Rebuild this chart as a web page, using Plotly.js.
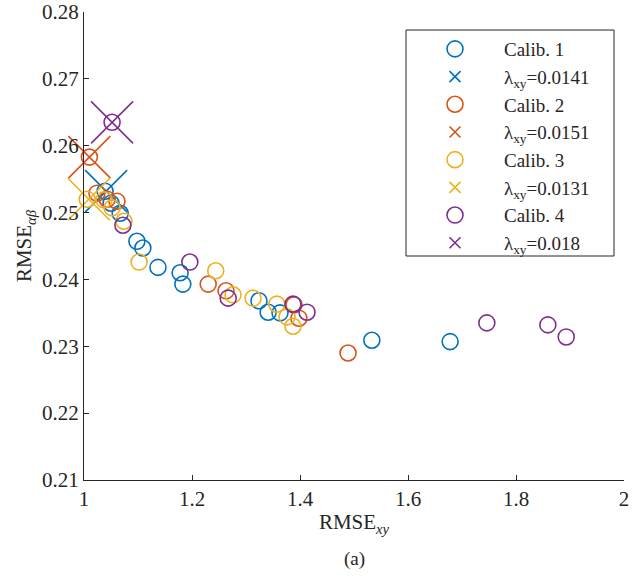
<!DOCTYPE html>
<html>
<head>
<meta charset="utf-8">
<script src="https://cdn.plot.ly/plotly-3.0.1.min.js"></script>
<style>html,body{margin:0;padding:0;background:#fff;}</style>
</head>
<body>
<div id="chart" style="width:642px;height:578px;"></div>
<script>
// Calib. 1 (blue)
const calib1X = [1.039, 1.050, 1.067, 1.098, 1.109, 1.137, 1.178, 1.183, 1.324, 1.341, 1.363, 1.533, 1.678];
const calib1Y = [0.2532, 0.2514, 0.2499, 0.2457, 0.2447, 0.2418, 0.2410, 0.2393, 0.2368, 0.2351, 0.2350, 0.2309, 0.2307];
// Calib. 2 (orange)
const calib2X = [1.010, 1.024, 1.043, 1.061, 1.230, 1.263, 1.389, 1.398, 1.489];
const calib2Y = [0.2583, 0.2529, 0.2520, 0.2517, 0.2393, 0.2383, 0.2362, 0.2342, 0.2290];
// Calib. 3 (yellow)
const calib3X = [1.006, 1.037, 1.052, 1.074, 1.102, 1.244, 1.276, 1.313, 1.357, 1.376, 1.387];
const calib3Y = [0.2520, 0.2519, 0.2507, 0.2487, 0.2426, 0.2413, 0.2377, 0.2372, 0.2363, 0.2344, 0.2330];
// Calib. 4 (purple)
const calib4X = [1.052, 1.072, 1.196, 1.267, 1.387, 1.413, 1.746, 1.859, 1.893];
const calib4Y = [0.2635, 0.2481, 0.2426, 0.2372, 0.2363, 0.2351, 0.2335, 0.2332, 0.2314];
// Selected lambda points
const lambdaLabels = ["0.0141", "0.0151", "0.0131", "0.018"];
const lambdaX = [1.041, 1.010, 1.009, 1.052];
const lambdaY = [0.2532, 0.2583, 0.2520, 0.2635];

const colors = ["#0072BD", "#D95319", "#EDB120", "#7E2F8E"];
const calibX = [calib1X, calib2X, calib3X, calib4X];
const calibY = [calib1Y, calib2Y, calib3Y, calib4Y];
const FONT = "'Liberation Serif', 'Times New Roman', serif";
const TXT = "#262626";

const traces = [];
for (let i = 0; i < 4; i++) {
  traces.push({
    x: calibX[i], y: calibY[i], type: "scatter", mode: "markers",
    name: "Calib. " + (i + 1), legendrank: 10 * i + 1,
    marker: {symbol: "circle-open", size: 16, color: colors[i], line: {width: 1.6, color: colors[i]}},
    cliponaxis: false
  });
  traces.push({
    x: [lambdaX[i]], y: [lambdaY[i]], type: "scatter", mode: "markers",
    showlegend: false,
    marker: {symbol: "x-thin-open", size: 42, color: colors[i], line: {width: 1.6, color: colors[i]}},
    cliponaxis: false
  });
  traces.push({
    x: [null], y: [null], type: "scatter", mode: "markers",
    name: "λ<sub>xy</sub>=" + lambdaLabels[i], legendrank: 10 * i + 2,
    marker: {symbol: "x-thin-open", size: 11, color: colors[i], line: {width: 1.6, color: colors[i]}}
  });
}

const layout = {
  width: 642, height: 578,
  margin: {l: 84, r: 18, t: 12, b: 98},
  paper_bgcolor: "#fff", plot_bgcolor: "#fff",
  font: {family: FONT, color: TXT, size: 20},
  showlegend: true,
  legend: {
    x: 0.5963, y: 0.9615, xanchor: "left", yanchor: "top",
    borderwidth: 0, bgcolor: "rgba(0,0,0,0)",
    font: {family: FONT, size: 19, color: TXT},
    itemwidth: 88, tracegroupgap: 0
  },
  shapes: [{
    type: "rect", xref: "paper", yref: "paper",
    x0: 0.5963, x1: 0.9815, y0: 0.4786, y1: 0.9615,
    line: {color: TXT, width: 1}, fillcolor: "rgba(0,0,0,0)", layer: "above"
  }],
  xaxis: {
    range: [1, 2], tickvals: [1, 1.2, 1.4, 1.6, 1.8, 2], ticktext: ["1", "1.2", "1.4", "1.6", "1.8", "2"],
    showline: true, linecolor: TXT, linewidth: 1, mirror: false,
    ticks: "inside", ticklen: 5, tickcolor: TXT,
    showgrid: false, zeroline: false,
    tickfont: {family: FONT, size: 21, color: TXT},
    title: {text: "RMSE<sub><i>xy</i></sub>", font: {family: FONT, size: 21, color: TXT}, standoff: 4}
  },
  yaxis: {
    range: [0.21, 0.28], tickvals: [0.21, 0.22, 0.23, 0.24, 0.25, 0.26, 0.27, 0.28],
    ticktext: ["0.21", "0.22", "0.23", "0.24", "0.25", "0.26", "0.27", "0.28"],
    showline: true, linecolor: TXT, linewidth: 1, mirror: false,
    ticks: "inside", ticklen: 5, tickcolor: TXT,
    showgrid: false, zeroline: false,
    tickfont: {family: FONT, size: 21, color: TXT},
    title: {text: "RMSE<sub><i>αβ</i></sub>", font: {family: FONT, size: 21, color: TXT}, standoff: 4}
  },
  annotations: [{
    text: "(a)", xref: "paper", yref: "paper", x: 0.5, y: -0.169, yanchor: "middle",
    showarrow: false, font: {family: FONT, size: 19, color: TXT}
  }]
};

Plotly.newPlot("chart", traces, layout, {displayModeBar: false, staticPlot: true});
</script>
</body>
</html>
